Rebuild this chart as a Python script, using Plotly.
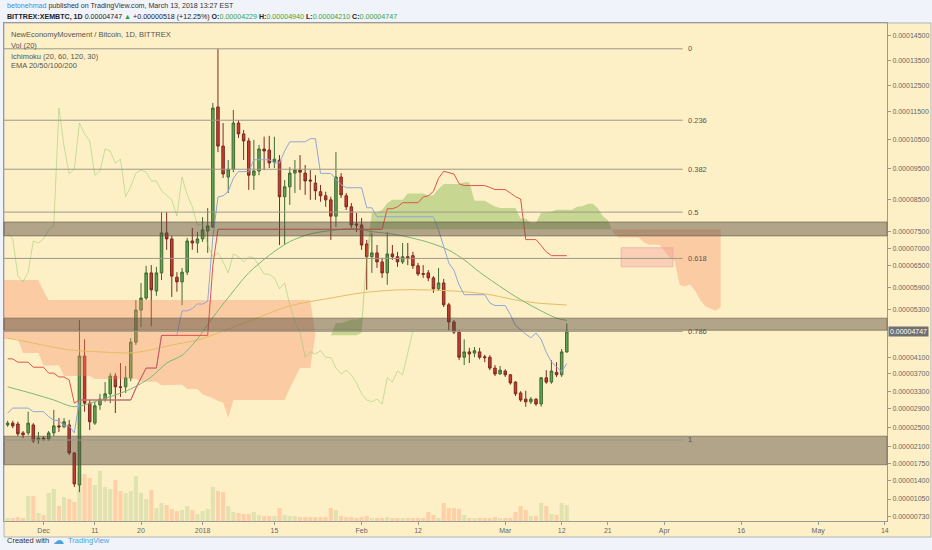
import numpy as np
import pandas as pd
import plotly.graph_objects as go

# ---------------- data (prices in satoshi = 1e-8 BTC) ----------------
BASE_DATE = "2017-12-01"
FIRST_CANDLE = "2017-11-24"
SAT = 1e-8
LOG_OFFSET = 1e-4  # price axis of the reference: log(price + offset)

OPEN = [2550, 2590, 2570, 2380, 2380, 2550, 2230, 2270, 2250, 2380, 2530, 2510, 2550, 1960, 1320, 4130,
        3030, 2590, 2990, 3120, 3240, 3650, 3400, 3400, 3610, 4470, 5290, 5610, 6300, 5800, 6300, 7460,
        7280, 6180, 6050, 6320, 7220, 7160, 7280, 7520, 7640, 11680, 10270, 9220, 9480, 11090, 10700, 10450,
        9280, 9420, 10170, 10130, 9720, 9790, 8580, 8900, 9350, 9450, 9350, 9120, 9020, 8740, 8610, 8480,
        7970, 9220, 8610, 8260, 7730, 7700, 7130, 6760, 6870, 6610, 6300, 6840, 6760, 6610, 6760, 6790,
        6500, 6280, 6300, 6160, 5860, 6020, 5430, 4980, 4720, 4100, 4230, 4200, 4230, 4110, 4100, 3840,
        3700, 3770, 3680, 3510, 3260, 3120, 3060, 3120, 3010, 3610, 3510, 3740, 3680, 4229]
HIGH = [2640, 2640, 2620, 2420, 2840, 2590, 2400, 2310, 2420, 2880, 2700, 2700, 2660, 1980, 5030, 4540,
        3100, 3060, 3240, 3510, 3720, 3720, 3960, 3890, 4570, 5560, 6020, 6500, 6520, 6470, 8100, 8100,
        7370, 6320, 6440, 7310, 7610, 7490, 7940, 8220, 11830, 13960, 11090, 9790, 11570, 11200, 10840, 10560,
        10490, 10310, 10600, 10630, 10600, 9960, 9120, 9550, 9790, 9960, 9620, 9450, 9280, 8960, 8740, 8580,
        10060, 9350, 8700, 8380, 8070, 7910, 7250, 7460, 7100, 6730, 7490, 7100, 6900, 7160, 7160, 6900,
        6580, 6520, 6380, 6210, 6440, 6130, 5480, 5030, 4770, 4540, 4330, 4350, 4330, 4160, 4150, 3910,
        3890, 3810, 3700, 3530, 3300, 3310, 3170, 3140, 3630, 3790, 4030, 3980, 4300, 4940]
LOW = [2510, 2480, 2310, 2270, 2330, 2170, 2150, 2210, 2210, 2310, 2400, 2480, 1920, 1280, 1180, 2840,
       2440, 2550, 2880, 3060, 3030, 2810, 3170, 3260, 3530, 4400, 4850, 5560, 4870, 5670, 6100, 6960,
       5640, 5780, 5420, 6240, 6960, 6870, 7190, 6870, 7610, 10060, 9190, 8700, 9380, 10560, 9790, 8800,
       8800, 9280, 9450, 9520, 9520, 7100, 7100, 8320, 8700, 8800, 8640, 8480, 8480, 8420, 8260, 7250,
       7640, 8540, 8160, 7610, 7490, 6960, 5830, 6300, 6440, 6160, 5970, 6670, 6470, 6550, 6520, 6410,
       6210, 6160, 6070, 5750, 5800, 5370, 4770, 4670, 4030, 3910, 3960, 4100, 4050, 3980, 3790, 3650,
       3680, 3630, 3450, 3190, 3060, 2950, 3010, 2970, 2950, 3470, 3470, 3630, 3630, 4210]
CLOSE = [2590, 2530, 2360, 2340, 2590, 2210, 2270, 2250, 2380, 2530, 2510, 2620, 1960, 1340, 4130, 3030,
         2620, 2970, 3120, 3240, 3650, 3400, 3390, 3610, 4470, 5290, 5610, 6300, 5830, 6300, 7460, 7280,
         6210, 6050, 6320, 7220, 7160, 7280, 7550, 7670, 11640, 10270, 9320, 9480, 11090, 10700, 10450, 9280,
         9420, 10170, 10100, 9690, 9820, 8580, 8900, 9350, 9450, 9380, 9090, 9090, 8770, 8610, 8480, 7970,
         9220, 8640, 8260, 7700, 7700, 7100, 6760, 6870, 6610, 6300, 6840, 6760, 6610, 6760, 6730, 6500,
         6270, 6260, 6160, 5860, 6020, 5430, 4980, 4720, 4100, 4230, 4180, 4260, 4100, 4090, 3840, 3700,
         3790, 3680, 3490, 3240, 3100, 3060, 3120, 3010, 3610, 3510, 3770, 3680, 4229, 4747]
VOLUME = [12, 12, 16, 12, 100, 100, 32, 24, 112, 128, 60, 96, 88, 76, 192, 188,
          172, 144, 200, 136, 128, 164, 120, 112, 120, 180, 112, 88, 124, 52, 72, 64,
          48, 40, 44, 60, 44, 28, 40, 48, 136, 120, 116, 60, 36, 32, 28, 28,
          36, 24, 20, 20, 20, 52, 24, 20, 20, 16, 16, 16, 16, 16, 16, 52,
          44, 20, 16, 16, 12, 16, 20, 12, 12, 12, 16, 12, 12, 12, 12, 12,
          12, 12, 36, 24, 12, 72, 52, 52, 48, 24, 12, 12, 12, 12, 12, 16,
          12, 12, 12, 36, 60, 44, 20, 20, 72, 60, 28, 24, 72, 64]

# Ichimoku lines: day offsets from BASE_DATE where the value changes, and values (sat)
TENKAN_DAYS = [-7, -6, -2, 1, 2, 4, 6, 7, 18, 19, 20, 23, 27, 29, 30, 32, 33, 34, 35, 36, 37, 38, 41, 45,
               47, 48, 52, 54, 57, 58, 59, 63, 65, 77, 78, 79, 80, 81, 82, 87, 88, 91, 92, 93, 94, 95, 96, 97,
               98, 99, 100, 101, 102]
TENKAN_VALS = [2810, 2920, 2840, 2730, 2650, 2530, 2380, 3100, 3370, 3600, 3840, 4640, 5270, 5330, 5450, 5520,
               7320, 8570, 8610, 8750, 9180, 9400, 9800, 9690, 10100, 10420, 10530, 9340, 9150, 8970, 8870, 8230,
               7950, 7550, 7040, 6580, 6370, 5970, 5700, 5480, 5410, 5170, 4890, 4790, 4670, 4580, 4700, 4540,
               4220, 3990, 3860, 3750, 3950]
KIJUN_DAYS = [-7, -5, -2, 1, 3, 5, 6, 7, 18, 19, 20, 23, 33, 34, 67, 69, 70, 74, 75, 76, 77, 78, 79, 80,
              81, 82, 87, 88, 91, 92, 93, 94, 97, 98, 99, 102]
KIJUN_VALS = [4060, 3980, 3860, 3720, 3630, 3560, 3030, 3100, 3370, 3600, 3840, 4640, 6500, 7570, 8200, 8260,
              8390, 8570, 8610, 8750, 9180, 9410, 9370, 9320, 9000, 8940, 8880, 8810, 8700, 8580, 8510, 7260,
              7080, 6900, 6790, 6790]
SPAN_A_DAYS = [-8, -4, 0, 4, 10, 19, 23, 26, 28, 31, 32, 33, 34, 35, 36, 37, 48, 49, 50, 53, 57, 59, 60, 62,
               63, 64, 65, 66, 67, 68, 71, 75, 77, 78, 82, 84, 87, 88, 89, 93, 95, 97, 99, 100, 104, 105, 106,
               107, 108, 109, 110, 111, 112, 117, 118, 121, 122, 123, 124, 125, 126, 127, 128, 129, 130, 131, 132]
SPAN_A_VALS = [4550, 4200, 3900, 3650, 3580, 3520, 3435, 3450, 3350, 3225, 3185, 3140, 3080, 3045, 2705, 3100,
               3370, 3600, 3840, 4640, 4955, 4985, 5045, 5080, 6910, 8070, 8090, 8160, 8375, 8485, 8685, 8630,
               8835, 8995, 9050, 8455, 8360, 8270, 8220, 7900, 7760, 8075, 8105, 8170, 8260, 8280, 8350, 8365,
               8225, 7975, 7845, 7485, 7320, 7180, 7110, 6935, 6735, 6650, 5965, 5920, 5980, 5810, 5560, 5390,
               5325, 5270, 5370]
SPAN_B_DAYS = [-8, -2, 0, 1, 53, 62, 63, 64, 132]
SPAN_B_VALS = [6100, 6100, 5800, 5560, 4640, 4700, 6505, 7570, 7570]

# EMA lines (vertices)
EMA50_DAYS = [-7, -2, 2, 6, 11, 17, 21, 24, 27, 30, 33, 36, 40, 44, 48, 52, 57, 61, 64, 69, 75, 79, 82, 85,
              88, 92, 96, 100, 102]
EMA50_VALS = [3400, 3240, 3100, 2950, 3100, 3350, 3630, 3960, 4150, 4550, 5100, 5620, 6300, 6800, 7200, 7430,
              7550, 7580, 7500, 7400, 7180, 6950, 6670, 6320, 6020, 5650, 5340, 5080, 5020]
EMA200_DAYS = [-7, -2, 5, 11, 17, 21, 25, 30, 35, 40, 48, 56, 62, 69, 75, 82, 87, 92, 96, 102]
EMA200_VALS = [4570, 4445, 4280, 4230, 4205, 4280, 4400, 4520, 4750, 5000, 5400, 5610, 5750, 5830, 5830, 5780,
               5700, 5560, 5480, 5425]

# Fibonacci retracement and zones
FIB_HIGH = 13960
FIB_LOW = 2230
FIB_LEVELS = [0, 0.236, 0.382, 0.5, 0.618, 0.786, 1]
FIB_LABELS = ["0", "0.236", "0.382", "0.5", "0.618", "0.786", "1"]
FIB_END = "2018-04-04 14:00"
BANDS = [(7790, 7370), (5080, 4770), (2310, 1720)]
PINK_ZONE = ("2018-03-23 14:00", "2018-04-02 17:00", 7020, 6470)
LAST_PRICE = 4747

YTICKS = [14500, 13500, 12500, 11500, 10500, 9500, 8500, 7500, 7000, 6500, 5900, 5300,
          4100, 3700, 3300, 2900, 2500, 2100, 1750, 1400, 1050, 730]
XTICK_DATES = ["2017-12-01", "2017-12-11", "2017-12-20", "2018-01-01", "2018-01-15", "2018-02-01",
               "2018-02-12", "2018-03-01", "2018-03-12", "2018-03-21", "2018-04-01", "2018-04-16",
               "2018-05-01", "2018-05-14"]
XTICK_TEXT = ["Dec", "11", "20", "2018", "15", "Feb", "12", "Mar", "12", "21", "Apr", "16", "May", "14"]
X_RANGE = ["2017-11-23 07:00", "2018-05-14 10:00"]
Y_RANGE_SAT = [640, 15047]

# ---------------- helpers ----------------
base = pd.Timestamp(BASE_DATE)


def day(d):
    return base + pd.to_timedelta(np.asarray(d, float), unit="D")


def ty(v):
    return np.log(np.asarray(v, float) * SAT + LOG_OFFSET)


def steps(days, vals, start, end):
    ds = np.arange(start, end + 1)
    idx = np.searchsorted(np.asarray(days), ds, side="right") - 1
    return ds, np.asarray(vals, float)[idx]


dates = pd.date_range(FIRST_CANDLE, periods=len(OPEN), freq="D")
PANE = "#FEF0C6"
FONT = "Liberation Sans, Arial, sans-serif"

fig = go.Figure()

# volume (base axis, hidden)
vol_colors = ["rgba(130,190,105,0.24)" if c >= o else "rgba(250,125,95,0.28)" for o, c in zip(OPEN, CLOSE)]
fig.add_trace(go.Bar(x=dates, y=VOLUME, marker=dict(color=vol_colors, line=dict(width=0)),
                     width=0.8 * 86400000, yaxis="y", hoverinfo="skip"))

# Ichimoku cloud
cd, A = steps(SPAN_A_DAYS, SPAN_A_VALS, -8, 132)
_, B = steps(SPAN_B_DAYS, SPAN_B_VALS, -8, 132)
tA, tB = ty(A), ty(B)
diff = tA - tB
sign = np.sign(np.round(diff, 9))
i = 0
n = len(cd)
while i < n:
    if sign[i] == 0:
        i += 1
        continue
    s = sign[i]
    j = i
    while j + 1 < n and sign[j + 1] == s:
        j += 1
    xs_top, ys_top = [], []
    if i > 0:
        t = diff[i - 1] / (diff[i - 1] - diff[i]) if diff[i - 1] != diff[i] else 0
        xs_top.append(cd[i - 1] + t)
        ys_top.append(tA[i - 1] + t * (tA[i] - tA[i - 1]))
    xs_top += list(cd[i:j + 1]); ys_top += list(tA[i:j + 1])
    if j < n - 1:
        t = diff[j] / (diff[j] - diff[j + 1]) if diff[j] != diff[j + 1] else 0
        xs_top.append(cd[j] + t)
        ys_top.append(tA[j] + t * (tA[j + 1] - tA[j]))
    xs_bot = list(cd[i:j + 1])[::-1]; ys_bot = list(tB[i:j + 1])[::-1]
    col = "rgba(125,180,75,0.42)" if s > 0 else "rgba(248,140,105,0.36)"
    fig.add_trace(go.Scatter(x=day(xs_top + xs_bot), y=ys_top + ys_bot, mode="lines", fill="toself",
                             fillcolor=col, line=dict(width=0), yaxis="y2", hoverinfo="skip"))
    i = j + 1

# lagging span: closes shifted back 30 bars
fig.add_trace(go.Scatter(x=dates[:-30], y=ty(CLOSE[30:]), mode="lines",
                         line=dict(color="rgba(130,195,95,0.45)", width=1), yaxis="y2", hoverinfo="skip"))
# EMAs
fig.add_trace(go.Scatter(x=day(EMA200_DAYS), y=ty(EMA200_VALS), mode="lines",
                         line=dict(color="#E6BC62", width=1, shape="spline", smoothing=0.8), yaxis="y2",
                         hoverinfo="skip"))
fig.add_trace(go.Scatter(x=day(EMA50_DAYS), y=ty(EMA50_VALS), mode="lines",
                         line=dict(color="#79B878", width=1, shape="spline", smoothing=0.8), yaxis="y2",
                         hoverinfo="skip"))
# Ichimoku base & conversion lines
kd, kv = steps(KIJUN_DAYS, KIJUN_VALS, -7, 102)
td, tv = steps(TENKAN_DAYS, TENKAN_VALS, -7, 102)
fig.add_trace(go.Scatter(x=day(td), y=ty(tv), mode="lines", line=dict(color="#8FA6D8", width=1),
                         yaxis="y2", hoverinfo="skip"))
fig.add_trace(go.Scatter(x=day(kd), y=ty(kv), mode="lines", line=dict(color="#E2524A", width=1),
                         yaxis="y2", hoverinfo="skip"))

# candles
fig.add_trace(go.Candlestick(
    x=dates, open=ty(OPEN), high=ty(HIGH), low=ty(LOW), close=ty(CLOSE), yaxis="y2",
    increasing=dict(line=dict(color="#3E6B34", width=1), fillcolor="#62A552"),
    decreasing=dict(line=dict(color="#7D2A21", width=1), fillcolor="#CA3B2E"),
    whiskerwidth=0, hoverinfo="skip"))

shapes = []
annotations = []
W, H = 883.0, 498.0
# pane frame including the axis strips
shapes.append(dict(type="rect", xref="paper", yref="paper", x0=0, x1=927 / W, y0=-16 / H, y1=1,
                   fillcolor=PANE, line=dict(color="#B4B4B4", width=1), layer="below"))
# horizontal zones
for top, bot in BANDS:
    shapes.append(dict(type="rect", xref="paper", yref="y2", x0=0, x1=1, y0=float(ty(bot)), y1=float(ty(top)),
                       fillcolor="rgba(85,72,60,0.45)", line=dict(color="rgba(90,78,62,0.55)", width=1)))
# pink zone
shapes.append(dict(type="rect", xref="x", yref="y2", x0=PINK_ZONE[0], x1=PINK_ZONE[1],
                   y0=float(ty(PINK_ZONE[3])), y1=float(ty(PINK_ZONE[2])),
                   fillcolor="rgba(240,150,150,0.35)", line=dict(color="rgba(235,160,160,0.6)", width=1)))
# fib lines
for lvl, lab in zip(FIB_LEVELS, FIB_LABELS):
    price = FIB_HIGH - lvl * (FIB_HIGH - FIB_LOW)
    yv = float(ty(price))
    shapes.append(dict(type="line", xref="x", yref="y2", x0="2017-11-01", x1=FIB_END, y0=yv, y1=yv,
                       line=dict(color="#9C9889", width=1)))
    annotations.append(dict(x=FIB_END, y=yv, xref="x", yref="y2", text=lab, showarrow=False,
                            xanchor="left", xshift=3, font=dict(size=7.5, color="#555555", family=FONT)))

# last price label
annotations.append(dict(x=1, y=float(ty(LAST_PRICE)), xref="paper", yref="y2", text=f"{LAST_PRICE * SAT:.8f}",
                        showarrow=False, xanchor="left", xshift=1, bgcolor="#707070", borderpad=1,
                        font=dict(size=7, color="white", family=FONT)))


def px_x(px):
    return (px - 4) / W


def px_y(py):
    return 1 + (23 - py) / H


annotations.append(dict(x=px_x(5), y=px_y(6), xref="paper", yref="paper", xanchor="left", yanchor="middle",
                        showarrow=False, font=dict(size=7.1, color="#333333", family=FONT),
                        text='<span style="color:#3E8ED9">betonehmad</span> published on TradingView.com, '
                             'March 13, 2018 13:27 EST'))
annotations.append(dict(x=px_x(5), y=px_y(17), xref="paper", yref="paper", xanchor="left", yanchor="middle",
                        showarrow=False, font=dict(size=7.1, color="#222222", family=FONT),
                        text='<b>BITTREX:XEMBTC, 1D</b> 0.00004747 <span style="color:#2E9E3E">▲</span> '
                             '+0.00000518 (+12.25%) <b>O:</b><span style="color:#3BA33B">0.00004229</span> '
                             '<b>H:</b><span style="color:#3BA33B">0.00004940</span> '
                             '<b>L:</b><span style="color:#3BA33B">0.00004210</span> '
                             '<b>C:</b><span style="color:#3BA33B">0.00004747</span>'))
for txt, py in [("NewEconomyMovement / Bitcoin, 1D, BITTREX", 34), ("Vol (20)", 45),
                ("Ichimoku (20, 60, 120, 30)", 56), ("EMA 20/50/100/200", 66)]:
    annotations.append(dict(x=px_x(9), y=px_y(py), xref="paper", yref="paper", xanchor="left",
                            yanchor="middle", showarrow=False, text=txt,
                            font=dict(size=7.5, color="#555555", family=FONT)))
annotations.append(dict(x=px_x(5), y=px_y(540), xref="paper", yref="paper", xanchor="left", yanchor="middle",
                        showarrow=False, text="Created with", font=dict(size=7.5, color="#333333", family=FONT)))
annotations.append(dict(x=px_x(51), y=px_y(540), xref="paper", yref="paper", xanchor="left", yanchor="middle",
                        showarrow=False, text="☁", font=dict(size=11, color="#4AA3DF", family="DejaVu Sans")))
annotations.append(dict(x=px_x(66), y=px_y(540), xref="paper", yref="paper", xanchor="left", yanchor="middle",
                        showarrow=False, text="TradingView", font=dict(size=7.5, color="#4AA3DF", family=FONT)))

fig.update_layout(
    width=932, height=550, autosize=False,
    margin=dict(l=4, r=45, t=23, b=29, autoexpand=False),
    paper_bgcolor="#F0F3FA", plot_bgcolor=PANE,
    showlegend=False, hovermode=False,
    font=dict(family=FONT, size=8, color="#555555"),
    shapes=shapes, annotations=annotations,
    xaxis=dict(type="date", range=X_RANGE, tickvals=XTICK_DATES, ticktext=XTICK_TEXT,
               ticks="outside", ticklen=3, tickcolor="#999999",
               tickfont=dict(size=7, color="#666666", family=FONT),
               showgrid=False, zeroline=False, showline=True, linecolor="#9A9A9A", mirror=True,
               rangeslider=dict(visible=False)),
    yaxis=dict(range=[0, max(VOLUME) * 9.96], visible=False, fixedrange=True),
    yaxis2=dict(overlaying="y", side="right", range=[float(v) for v in ty(Y_RANGE_SAT)],
                tickvals=[float(v) for v in ty(YTICKS)], ticktext=[f"{v * SAT:.8f}" for v in YTICKS],
                ticks="outside", ticklen=3, tickcolor="#999999",
                tickfont=dict(size=7, color="#666666", family=FONT),
                showgrid=False, zeroline=False, showline=True, linecolor="#9A9A9A", mirror=True),
)

fig.write_html("out.html", config={"displayModeBar": False, "staticPlot": True},
               post_script="document.body.style.margin='0px';document.body.style.overflow='hidden';")
